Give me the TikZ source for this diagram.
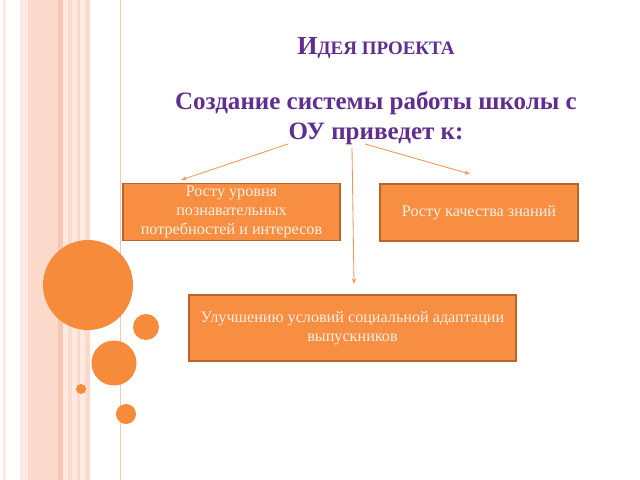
\documentclass[tikz,border=0pt]{standalone}
\usepackage{fontspec}
\setmainfont{Liberation Serif}
\usetikzlibrary{arrows.meta,positioning}
\definecolor{ideaPurple}{HTML}{602E8F}
\definecolor{boxOrange}{HTML}{F78E42}
\definecolor{boxEdge}{HTML}{B8652C}
\definecolor{dotOrange}{HTML}{F68B3B}
\definecolor{stripeA}{HTML}{FDE9E0}
\definecolor{stripeB}{HTML}{FCDACB}
\definecolor{stripeC}{HTML}{F9C6B2}
\definecolor{boxText}{HTML}{FDEFE3}
\definecolor{arrowOrange}{HTML}{F2955A}
\tikzset{
    result/.style={draw=boxEdge, line width=0.9pt, fill=boxOrange, text=boxText,
                   align=center, inner sep=2pt, font=\fontsize{11.5}{13.5}\selectfont},
    headline/.style={text=ideaPurple, font=\bfseries, align=center},
    lead/.style={draw=arrowOrange, line width=0.6pt, -{Stealth[length=4pt,width=3pt]}},
    dot/.style={fill=dotOrange, draw=none},
}

\begin{document}
\begin{tikzpicture}[x=0.025cm, y=-0.025cm]
    % Background
    \useasboundingbox (0,0) rectangle (640,480);
    \fill[white] (0,0) rectangle (640,480);

    % Left stripes
    \fill[stripeA] (3,0) rectangle (6,480);
    \fill[stripeA] (20,0) rectangle (85,480);
    \fill[stripeB] (28,0) rectangle (58,480);
    \fill[stripeC] (58,0) rectangle (63,480);
    \fill[stripeB] (68,0) rectangle (72,480);
    \fill[stripeB] (77,0) rectangle (80,480);
    \fill[stripeB] (85,0) rectangle (90,480);
    \draw[stripeC, line width=0.7pt] (120,0) -- (120,480);

    % Circles
    \fill[dot] (88,285) circle (45);
    \fill[dot] (146,327) circle (13);
    \fill[dot] (114,363) circle (22.5);
    \fill[dot] (81,389) circle (5);
    \fill[dot] (126,414) circle (10);

    % Titles
    \node[headline] (title) at (376,48)
        {{\fontsize{18.5}{21}\selectfont И}{\fontsize{13.5}{16}\selectfont ДЕЯ ПРОЕКТА}};
    \node[headline, font=\bfseries\fontsize{17.8}{21.5}\selectfont] (idea) at (376,118)
        {Создание системы работы школы с\\ОУ приведет к:};

    % Results
    \node[result, minimum width=217*0.025cm, minimum height=56*0.025cm] (growth) at (231.5,212)
        {Росту уровня\\познавательных\\потребностей и интересов};
    \node[result, minimum width=198*0.025cm, minimum height=57*0.025cm] (quality) at (479,212.5)
        {Росту качества знаний};
    \node[result, minimum width=327*0.025cm, minimum height=66*0.025cm] (adapt) at (352.5,328)
        {Улучшению условий социальной адаптации\\выпускников};

    % Arrows
    \coordinate (fromL) at (288,144);
    \coordinate (fromM) at (352,148);
    \coordinate (fromR) at (365,144);
    \coordinate (toL) at (181,180);
    \coordinate (toM) at (354,284);
    \coordinate (toR) at (470,174);
    \draw[lead] (fromL) -- (toL);
    \draw[lead] (fromM) -- (toM);
    \draw[lead] (fromR) -- (toR);
\end{tikzpicture}
\end{document}
